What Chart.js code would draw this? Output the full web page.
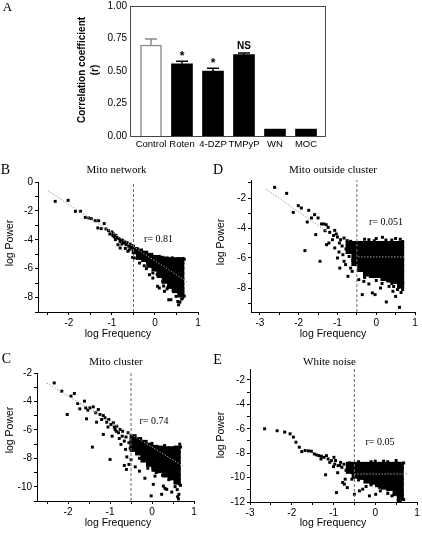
<!DOCTYPE html>
<html><head><meta charset="utf-8">
<script src="https://cdn.jsdelivr.net/npm/chart.js@4.4.1/dist/chart.umd.min.js"></script>
<style>
html,body{margin:0;padding:0;background:#fff;}
body{width:422px;height:533px;position:relative;overflow:hidden;}
canvas{position:absolute;display:block;}
</style></head><body>
<canvas id="cA"></canvas><canvas id="cB"></canvas><canvas id="cD"></canvas><canvas id="cC"></canvas><canvas id="cE"></canvas>
<script>
// ---------------- data ----------------
const barCategories = ['Control','Roten','4-DZP','TMPyP','WN','MOC'];
const barValues = [0.70, 0.555, 0.50, 0.626, 0.053, 0.053];
const barErrors = [0.046, 0.02, 0.022, 0.013, 0, 0];
const barMarks = ['', '*', '*', 'NS', '', ''];
const barTicks = [0, 0.25, 0.5, 0.75, 1.0];

const cutoffFreq = -0.5;

const bSparse = [[-2.32,-1.34],[-2.02,-1.27],[-1.85,-2.03],[-1.73,-2.03],[-1.62,-2.45],[-1.54,-2.49],[-1.48,-2.54],[-1.39,-2.68],[-1.31,-2.68],[-1.18,-2.88],[-1.33,-3.18],[-1.25,-3.23],[-1.14,-3.25],[-1.08,-3.37],[-1.0,-3.46],[-0.97,-3.6],[-0.91,-3.69],[-0.92,-3.99],[-0.84,-3.92],[-0.81,-4.11],[-0.86,-4.34],[-0.81,-4.57],[-0.73,-4.22],[-0.67,-4.34],[-0.61,-4.45],[-0.56,-4.57],[-0.52,-5.22],[-0.63,-4.8],[-0.44,-4.69],[-0.95,-3.8],[-0.88,-3.85],[-0.78,-4.0],[-0.75,-4.05],[-0.7,-4.15],[-0.65,-4.2],[-0.58,-4.3],[-0.55,-4.4],[-0.5,-4.45],[-0.77,-4.3],[-0.69,-4.6],[-0.6,-4.7],[-0.48,-4.9],[-1.05,-3.6],[-0.98,-3.7],[0.06,-7.22],[0.1,-7.34],[0.32,-8.15],[0.37,-8.15],[0.49,-7.92],[0.55,-8.5],[0.53,-8.27],[0.58,-8.31],[0.64,-8.03],[0.22,-7.57],[-0.05,-6.65],[-0.13,-6.42],[-0.36,-5.61],[-0.48,-5.26],[0.65,-5.3],[0.66,-7.9],[0.62,-8.1],[0.2,-7.2],[0.28,-7.4],[-0.25,-5.8],[-0.05,-6.3],[-0.2,-6.0],[0.05,-6.4],[0.18,-6.9],[0.3,-7.3],[0.42,-7.5],[0.68,-7.9],[0.1,-5.15],[0.4,-5.25],[0.68,-5.35]];
const bDense = [[-0.46,-4.75],[-0.36,-4.85],[-0.36,-5.15],[-0.24,-5.0],[-0.24,-5.3],[-0.12,-5.15],[-0.12,-5.45],[-0.12,-5.7],[0,-5.3],[0,-5.6],[0,-5.95],[0.12,-5.35],[0.12,-5.7],[0.12,-6.05],[0.12,-6.4],[0.24,-5.4],[0.24,-5.75],[0.24,-6.1],[0.24,-6.45],[0.24,-6.8],[0.36,-5.45],[0.36,-5.8],[0.36,-6.15],[0.36,-6.5],[0.36,-6.85],[0.36,-7.15],[0.48,-5.45],[0.48,-5.8],[0.48,-6.15],[0.48,-6.5],[0.48,-6.85],[0.48,-7.2],[0.48,-7.45],[0.6,-5.45],[0.6,-5.8],[0.6,-6.15],[0.6,-6.5],[0.6,-6.85],[0.6,-7.2],[0.6,-7.5],[0.6,-7.75]];
const bFit = [[-2.49,-0.6],[0.76,-6.94]];

const dSparse = [[-2.62,-1.29],[-2.31,-1.69],[-2.14,-2.96],[-2.01,-2.51],[-1.93,-2.67],[-1.74,-2.82],[-1.78,-3.6],[-1.67,-3.33],[-1.59,-3.11],[-1.5,-3.33],[-1.84,-5.51],[-1.45,-6.22],[-1.56,-4.44],[-1.41,-3.73],[-1.35,-3.73],[-1.29,-3.78],[-1.24,-3.96],[-1.32,-4.18],[-1.2,-4.29],[-1.07,-4.16],[-1.03,-4.4],[-1.13,-4.78],[-1.22,-5.0],[-1.28,-5.11],[-1.07,-5.33],[-0.96,-5.6],[-1.0,-6.0],[-0.94,-6.67],[-0.83,-6.22],[-0.73,-7.22],[-0.86,-5.78],[-0.79,-6.44],[-0.66,-6.67],[-0.62,-6.89],[-0.92,-4.78],[-0.83,-4.67],[-0.75,-4.84],[-0.66,-4.89],[-0.57,-5.0],[-0.53,-5.22],[-0.36,-8.44],[-0.32,-7.56],[-0.1,-8.33],[-0.03,-8.44],[0.11,-8.0],[0.26,-8.93],[0.33,-7.89],[0.43,-8.22],[0.5,-8.56],[0.6,-9.29],[0.66,-7.89],[0.58,-7.95],[-0.45,-7.44],[-0.26,-7.11],[-0.19,-7.73],[-0.19,-4.78],[0.16,-4.62],[-0.95,-5.0],[-0.88,-5.2],[-0.78,-5.4],[-0.7,-5.9],[-1.1,-4.5],[-1.0,-4.6],[-0.6,-6.2],[-0.55,-5.8],[0.62,-4.75],[0.4,-4.8],[-0.05,-4.85],[0.64,-8.3],[0.55,-8.1],[-0.3,-4.75],[0.0,-4.7],[0.25,-4.8],[0.5,-4.7],[0.68,-4.9],[-0.3,-7.3],[0.0,-7.5],[0.15,-7.7],[0.4,-7.7],[0.45,-7.9],[0.68,-8.1]];
const dDense = [[-0.7,-5.1],[-0.7,-5.5],[-0.55,-5.1],[-0.55,-5.5],[-0.55,-5.9],[-0.55,-6.3],[-0.4,-5.1],[-0.4,-5.5],[-0.4,-5.9],[-0.4,-6.3],[-0.4,-6.7],[-0.25,-5.1],[-0.25,-5.5],[-0.25,-5.9],[-0.25,-6.3],[-0.25,-6.7],[-0.25,-7.0],[-0.1,-5.1],[-0.1,-5.5],[-0.1,-5.9],[-0.1,-6.3],[-0.1,-6.7],[-0.1,-7.1],[0.05,-5.1],[0.05,-5.5],[0.05,-5.9],[0.05,-6.3],[0.05,-6.7],[0.05,-7.1],[0.2,-5.1],[0.2,-5.5],[0.2,-5.9],[0.2,-6.3],[0.2,-6.7],[0.2,-7.1],[0.2,-7.3],[0.35,-5.1],[0.35,-5.5],[0.35,-5.9],[0.35,-6.3],[0.35,-6.7],[0.35,-7.1],[0.35,-7.4],[0.5,-5.1],[0.5,-5.5],[0.5,-5.9],[0.5,-6.3],[0.5,-6.7],[0.5,-7.1],[0.5,-7.5],[0.63,-5.1],[0.63,-5.5],[0.63,-5.9],[0.63,-6.3],[0.63,-6.7],[0.63,-7.1],[0.63,-7.5],[0.63,-7.8]];
const dFitLow = [[-2.85,-1.4],[-1.25,-4.27]];
const dFitHigh = [[-0.47,-5.93],[0.72,-5.93]];

const cSparse = [[-2.33,-2.7],[-2.15,-3.28],[-1.93,-3.63],[-1.85,-3.44],[-2.02,-4.92],[-1.77,-4.15],[-1.72,-4.52],[-1.61,-3.98],[-1.58,-4.45],[-1.53,-4.61],[-1.56,-5.22],[-1.48,-4.45],[-1.4,-4.38],[-1.42,-7.21],[-1.34,-4.8],[-1.28,-4.57],[-1.24,-4.92],[-1.2,-5.27],[-1.16,-4.99],[-1.32,-5.46],[-1.12,-5.15],[-1.08,-5.46],[-1.03,-5.27],[-1.16,-6.32],[-0.98,-5.62],[-1.0,-8.08],[-0.92,-5.5],[-0.88,-5.97],[-0.84,-5.74],[-0.95,-6.44],[-0.8,-6.2],[-0.76,-5.97],[-0.71,-6.44],[-0.74,-7.02],[-0.66,-6.79],[-0.63,-7.37],[-0.66,-8.5],[-0.61,-8.78],[-0.55,-8.43],[-0.57,-6.2],[-0.49,-6.56],[-0.17,-9.4],[0.03,-9.83],[0.07,-9.25],[0.27,-9.95],[0.35,-10.18],[0.47,-10.37],[0.55,-9.99],[0.64,-10.53],[0.23,-10.53],[-0.02,-10.64],[0.31,-10.12],[0.61,-10.7],[0.63,-10.85],[0.6,-10.2],[0.65,-9.8],[-0.4,-8.6],[-0.3,-8.9],[-0.9,-5.8],[-0.85,-6.1],[-0.7,-6.1],[-0.62,-6.5],[-0.55,-6.9],[-0.52,-7.3],[-0.6,-7.9],[-0.5,-8.1],[-0.78,-6.6],[-1.05,-5.8],[0.66,-7.0],[-0.3,-8.0],[-0.1,-8.7],[0.1,-9.0],[0.25,-9.2],[0.4,-9.5],[0.55,-9.7],[0.68,-9.9],[0.0,-6.95],[0.3,-7.1],[0.68,-7.2]];
const cDense = [[-0.45,-6.55],[-0.45,-6.95],[-0.45,-7.3],[-0.32,-6.75],[-0.32,-7.15],[-0.32,-7.55],[-0.19,-6.95],[-0.19,-7.35],[-0.19,-7.75],[-0.19,-8.05],[-0.06,-7.15],[-0.06,-7.55],[-0.06,-7.95],[-0.06,-8.35],[0.07,-7.3],[0.07,-7.7],[0.07,-8.1],[0.07,-8.5],[0.07,-8.7],[0.2,-7.35],[0.2,-7.75],[0.2,-8.15],[0.2,-8.55],[0.2,-8.8],[0.33,-7.4],[0.33,-7.8],[0.33,-8.2],[0.33,-8.6],[0.33,-9.0],[0.33,-9.1],[0.46,-7.4],[0.46,-7.8],[0.46,-8.2],[0.46,-8.6],[0.46,-9.0],[0.46,-9.3],[0.6,-7.35],[0.6,-7.75],[0.6,-8.15],[0.6,-8.55],[0.6,-8.95],[0.6,-9.35],[0.6,-9.6]];
const cFit = [[-2.51,-2.7],[0.74,-8.54]];

const eSparse = [[-2.65,-6.0],[-2.35,-6.16],[-2.17,-6.27],[-2.04,-6.41],[-1.96,-6.68],[-1.9,-7.1],[-1.82,-7.51],[-1.76,-7.87],[-1.68,-7.78],[-1.6,-7.81],[-1.53,-7.84],[-1.46,-8.06],[-1.41,-8.14],[-1.35,-8.2],[-1.29,-8.25],[-1.3,-8.47],[-1.23,-8.34],[-1.17,-8.2],[-1.13,-8.47],[-1.19,-9.77],[-1.09,-8.75],[-1.05,-8.61],[-0.99,-8.34],[-0.97,-8.89],[-0.93,-11.23],[-0.89,-9.02],[-0.83,-8.75],[-0.8,-9.16],[-0.78,-10.4],[-0.74,-10.54],[-0.72,-10.13],[-0.67,-10.82],[-0.66,-9.3],[-0.59,-9.02],[-0.56,-10.13],[-0.5,-11.37],[-0.38,-11.09],[-0.3,-10.95],[-0.22,-10.73],[-0.14,-11.5],[0.01,-11.37],[0.12,-11.09],[-0.95,-8.6],[-0.85,-9.0],[-0.75,-8.9],[-0.7,-9.4],[-0.62,-8.8],[-0.55,-9.6],[-1.0,-9.1],[-0.9,-9.6],[0.55,-11.9],[0.6,-12.0],[0.4,-11.5],[0.3,-11.3],[0.5,-8.6],[0.2,-8.65],[-0.1,-8.7],[-0.4,-8.7],[0.0,-8.65],[0.3,-8.7],[0.68,-8.8],[-0.4,-10.2],[-0.1,-10.6],[0.1,-10.8],[0.3,-11.0],[0.45,-11.4],[0.68,-11.8]];
const eDense = [[-0.62,-9.0],[-0.62,-9.4],[-0.48,-9.0],[-0.48,-9.45],[-0.48,-9.8],[-0.34,-9.0],[-0.34,-9.45],[-0.34,-9.9],[-0.2,-9.0],[-0.2,-9.45],[-0.2,-9.9],[-0.2,-10.2],[-0.06,-9.0],[-0.06,-9.45],[-0.06,-9.9],[-0.06,-10.3],[0.08,-9.0],[0.08,-9.45],[0.08,-9.9],[0.08,-10.35],[0.08,-10.5],[0.22,-9.0],[0.22,-9.45],[0.22,-9.9],[0.22,-10.35],[0.22,-10.7],[0.36,-9.0],[0.36,-9.45],[0.36,-9.9],[0.36,-10.35],[0.36,-10.8],[0.5,-9.0],[0.5,-9.45],[0.5,-9.9],[0.5,-10.35],[0.5,-10.8],[0.5,-11.2],[0.6,-9.0],[0.6,-9.45],[0.6,-9.9],[0.6,-10.35],[0.6,-10.8],[0.6,-11.25],[0.6,-11.6]];
const eFit = [[-0.5,-9.71],[0.76,-9.71]];

// ---------------- helpers ----------------
const SANS = '"Liberation Sans", Arial, sans-serif';
const SERIF = '"Liberation Serif", "Times New Roman", serif';
Chart.defaults.font.family = SANS;
Chart.defaults.color = '#000';

function toXY(arr){ return arr.map(p => ({x:p[0], y:p[1]})); }

function textPlugin(items, offX, offY){
  return { id:'pageText', afterDraw(chart){
    const ctx = chart.ctx;
    items.forEach(it => {
      ctx.save();
      ctx.font = it.font; ctx.fillStyle = '#000';
      ctx.textAlign = 'center'; ctx.textBaseline = 'middle';
      ctx.translate(it.x - offX, it.y - offY);
      if (it.rot) ctx.rotate(-Math.PI/2);
      ctx.fillText(it.t, 0, 0);
      ctx.restore();
    });
  }};
}

function placeCanvas(id, L){
  const el = document.getElementById(id);
  el.width = L.w; el.height = L.h;
  el.style.width = L.w + 'px'; el.style.height = L.h + 'px';
  el.style.left = L.left + 'px'; el.style.top = L.top + 'px';
  return el;
}

// ---------------- panel A ----------------
(function(){
  const L = {left:0, top:-3, w:340, h:160, caL:130, caT:5, caR:325, caB:136};
  const el = placeCanvas('cA', L);
  const frame = { id:'frame', afterDatasetsDraw(chart){
    const {ctx, chartArea:a, scales:{x, y}} = chart;
    ctx.save();
    ctx.strokeStyle = '#444'; ctx.lineWidth = 1;
    ctx.strokeRect(Math.round(a.left)+0.5, Math.round(a.top)+0.5, Math.round(a.right-a.left), Math.round(a.bottom-a.top));
    barValues.forEach((v,i) => {
      const e = barErrors[i];
      const px = x.getPixelForValue(i);
      const top = y.getPixelForValue(v + e), base = y.getPixelForValue(v);
      if (e > 0) {
        ctx.strokeStyle = i === 0 ? '#8a8a8a' : '#000'; ctx.lineWidth = 1.5;
        ctx.beginPath(); ctx.moveTo(px, base); ctx.lineTo(px, top);
        ctx.moveTo(px-6, top); ctx.lineTo(px+6, top); ctx.stroke();
      }
      if (barMarks[i]) {
        const star = barMarks[i] === '*';
        ctx.fillStyle = '#000';
        ctx.font = 'bold ' + (star ? 12 : 10) + 'px ' + SANS;
        ctx.textAlign = 'center'; ctx.textBaseline = 'alphabetic';
        ctx.fillText(barMarks[i], px, top - (star ? 1 : 3.5));
      }
    });
    ctx.restore();
  }};
  new Chart(el, {
    type:'bar',
    data:{ datasets:[{
      data: barValues.map((v,i) => ({x:i, y:v})),
      backgroundColor: barCategories.map((c,i) => i === 0 ? '#fff' : '#000'),
      borderColor: barCategories.map((c,i) => i === 0 ? '#8a8a8a' : '#000'),
      borderWidth: barCategories.map((c,i) => i === 0 ? 1.5 : 0),
      borderSkipped: 'start',
      barThickness: 21
    }]},
    options:{
      responsive:false, animation:false, events:[],
      layout:{padding:{left:0, top:L.caT - L.top, right:L.w - L.caR, bottom:0}},
      plugins:{legend:{display:false}, tooltip:{enabled:false}},
      scales:{
        x:{ type:'linear', offset:false, min:-0.677, max:5.613,
            afterBuildTicks: s => { s.ticks = barCategories.map((c,i) => ({value:i})); },
            afterFit: s => { s.height = L.h - (L.caB - L.top); },
            grid:{display:false, drawTicks:false, offset:false}, border:{display:false},
            ticks:{autoSkip:false, maxRotation:0, padding:3, color:'#000', font:{family:SANS, size:9.5},
                   callback: v => barCategories[v] ?? ''} },
        y:{ type:'linear', min:0, max:1,
            afterBuildTicks: s => { s.ticks = barTicks.map(v => ({value:v})); },
            afterFit: s => { s.width = L.caL - L.left; },
            grid:{display:false, drawTicks:false}, border:{display:false},
            ticks:{padding:3, color:'#000', font:{family:SANS, size:10}, callback: v => Number(v).toFixed(2)} }
      }
    },
    plugins:[frame, textPlugin([
      {t:'A', x:7.5, y:8, font:'13px ' + SERIF},
      {t:'Correlation coefficient', x:82.5, y:70, font:'bold 10px ' + SANS, rot:true},
      {t:'(r)', x:95.5, y:70, font:'bold 10px ' + SANS, rot:true}
    ], L.left, L.top)]
  });
})();

// ---------------- scatter panels ----------------
function scatterPanel(id, L, P, texts){
  const el = placeCanvas(id, L);
  const ds = [];
  P.fits.forEach(f => ds.push({type:'line', data:toXY(f), borderColor:'#a0a0a0', borderWidth:1, borderDash:[1.5,1.5], pointRadius:0, fill:false, order:0}));
  ds.push({type:'line', data:[{x:cutoffFreq, y:P.yMin}, {x:cutoffFreq, y:P.yMax}], borderColor:'#6e6e6e', borderWidth:1, borderDash:[3,2], pointRadius:0, fill:false, order:1});
  ds.push({data:toXY(P.sparse), pointStyle:'rect', pointRadius:2.1, pointBackgroundColor:'#000', pointBorderWidth:0, order:2});
  ds.push({data:toXY(P.dense), pointStyle:'rect', pointRadius:5, pointBackgroundColor:'#000', pointBorderWidth:0, order:3});
  const isInt = v => Math.abs(v - Math.round(v)) < 1e-6;
  const axisGrid = {drawOnChartArea:false, drawTicks:true, tickLength:3, color:'#000', lineWidth:1};
  new Chart(el, {
    type:'scatter',
    data:{datasets:ds},
    options:{
      responsive:false, animation:false, events:[],
      layout:{padding:{left:0, top:L.caT - L.top, right:(L.left + L.w) - L.caR, bottom:0}},
      plugins:{legend:{display:false}, tooltip:{enabled:false}},
      scales:{
        x:{ type:'linear', min:P.xMin, max:P.xMax,
            afterFit: s => { s.height = (L.top + L.h) - L.caB; },
            grid:axisGrid, border:{display:true, color:'#000', width:1},
            ticks:{stepSize:0.5, includeBounds:false, autoSkip:false, maxRotation:0, padding:2, color:'#000',
                   font:{family:SANS, size:10}, callback: v => isInt(v) ? String(Math.round(v)) : ''} },
        y:{ type:'linear', min:P.yMin, max:P.yMax,
            afterFit: s => { s.width = L.caL - L.left; },
            grid:axisGrid, border:{display:true, color:'#000', width:1},
            ticks:{stepSize:1, includeBounds:false, autoSkip:false, padding:2, color:'#000',
                   font:{family:SANS, size:10}, callback: v => (isInt(v) && Math.round(v) % 2 === 0) ? String(Math.round(v)) : ''} }
      }
    },
    plugins:[textPlugin(texts, L.left, L.top)]
  });
}

const TITLE = '11px ' + SERIF, LETTER = '14px ' + SERIF, RVAL = '10px ' + SERIF, AXT = '10.5px ' + SANS;

scatterPanel('cB', {left:0, top:157, w:211, h:188, caL:38, caT:182, caR:198, caB:312},
  {xMin:-2.72, xMax:1, yMin:-9, yMax:0, sparse:bSparse, dense:bDense, fits:[bFit]},
  [{t:'B', x:5.5, y:170.5, font:LETTER}, {t:'Mito network', x:116.5, y:170, font:TITLE},
   {t:'r= 0.81', x:158.5, y:239, font:RVAL},
   {t:'log Power', x:10, y:243, font:AXT, rot:true}, {t:'log Frequency', x:118, y:334, font:AXT}]);

scatterPanel('cD', {left:211, top:157, w:211, h:188, caL:251, caT:180, caR:415, caB:312},
  {xMin:-3.23, xMax:1, yMin:-9.6, yMax:-0.8, sparse:dSparse, dense:dDense, fits:[dFitLow, dFitHigh]},
  [{t:'D', x:218, y:170.5, font:LETTER}, {t:'Mito outside cluster', x:333, y:170, font:TITLE},
   {t:'r= 0.051', x:386, y:222, font:RVAL},
   {t:'log Power', x:221, y:242, font:AXT, rot:true}, {t:'log Frequency', x:333, y:334.5, font:AXT}]);

scatterPanel('cC', {left:0, top:345, w:211, h:188, caL:37, caT:373, caR:194, caB:501},
  {xMin:-2.74, xMax:1, yMin:-11, yMax:-2, sparse:cSparse, dense:cDense, fits:[cFit]},
  [{t:'C', x:6.5, y:359, font:LETTER}, {t:'Mito cluster', x:116, y:362.5, font:TITLE},
   {t:'r= 0.74', x:154, y:421, font:RVAL},
   {t:'log Power', x:10, y:430, font:AXT, rot:true}, {t:'log Frequency', x:118, y:523.5, font:AXT}]);

scatterPanel('cE', {left:211, top:345, w:211, h:188, caL:250, caT:369, caR:419, caB:502},
  {xMin:-3, xMax:1, yMin:-12, yMax:-1.1, sparse:eSparse, dense:eDense, fits:[eFit]},
  [{t:'E', x:217.5, y:360, font:LETTER}, {t:'White noise', x:329.5, y:362.5, font:TITLE},
   {t:'r= 0.05', x:380, y:442, font:RVAL},
   {t:'log Power', x:221, y:435, font:AXT, rot:true}, {t:'log Frequency', x:333, y:523.5, font:AXT}]);
</script>
</body></html>
